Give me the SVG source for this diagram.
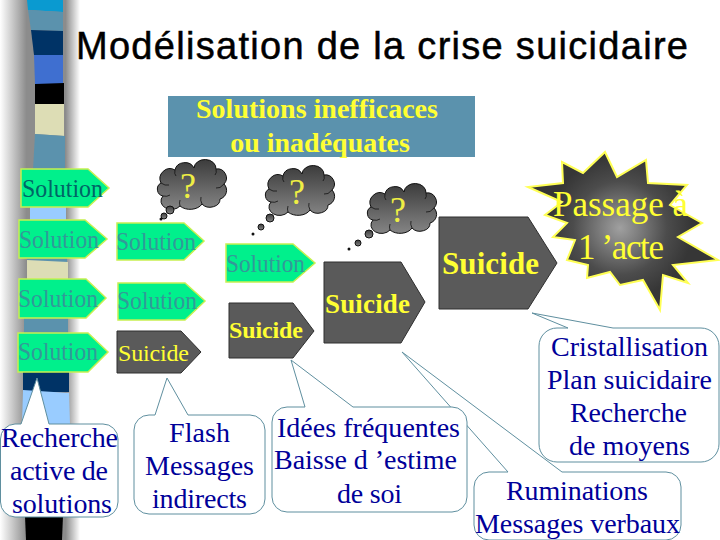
<svg xmlns="http://www.w3.org/2000/svg" width="720" height="540" viewBox="0 0 720 540">
<style>
.g{fill:#00f08c;stroke:#c8f050;stroke-width:1.5}
.d{fill:#5a5a5a;stroke:#2e2e2e;stroke-width:1}
.c{fill:#fff;stroke:#5f8f9f;stroke-width:1}
text{font-family:"Liberation Serif","Times New Roman",serif}
.s{font-size:26px;fill:#339999}
.y{fill:#ffff33}
.b{font-weight:bold}
.n{font-size:28px;fill:#000099}
.q{font-size:36px;fill:#eeee44;text-anchor:middle}
.cl{fill:url(#cg);stroke:#111;stroke-width:1}
.cr{fill:none;stroke:#111;stroke-width:.8}
</style>
<defs>
<linearGradient id="sh" x1="0" x2="1" y1="0" y2="0">
<stop offset="0" stop-color="#fff"/><stop offset=".33" stop-color="#8c8c8c"/><stop offset=".82" stop-color="#8c8c8c"/><stop offset="1" stop-color="#fff"/>
</linearGradient>
<linearGradient id="cg" x1="0" x2="0" y1="0" y2="1">
<stop offset="0" stop-color="#3c3c3c"/><stop offset="1" stop-color="#858585"/>
</linearGradient>
<radialGradient id="st" gradientUnits="userSpaceOnUse" cx="620" cy="228" r="72">
<stop offset="0" stop-color="#a0a0a0"/><stop offset=".65" stop-color="#4c4c4c"/><stop offset="1" stop-color="#363636"/>
</radialGradient>
<g id="cloud">
<path class="cl" d="M7 34A7 7 0 0 1 5 21A10 10 0 0 1 19 8A10 9 0 0 1 38 6A11 9 0 0 1 60 7A9 9 0 0 1 68 22A9 9 0 0 1 64 37A10 8 0 0 1 46 42A13 9 0 0 1 24 44A10 8 0 0 1 7 34Z"/>
<path class="cr" d="M5 21Q9 24 13 23M19 8Q18 12 20 14M60 7Q61 11 59 13M68 22Q64 27 60 26M46 42Q44 38 45 35M24 44Q23 41 24 38M7 34Q11 35 14 33"/>
</g>
</defs>
<rect width="720" height="540" fill="#fff"/>
<g id="strip">
<rect x="0" y="0" width="80" height="540" fill="url(#sh)"/>
<polygon points="27,0 63,0 63,12 28,10" fill="#0a9ad0"/>
<polygon points="28,10 63,12 63,31 31,30" fill="#5b92ad"/>
<polygon points="31,30 63,31 63,55 34,55" fill="#003366"/>
<polygon points="34,55 63,55 63,84 35,84" fill="#3f6fd0"/>
<polygon points="35,84 64,83 64,104 35,104" fill="#000"/>
<polygon points="35,104 64,104 64,136 35,134" fill="#ddddb5"/>
<polygon points="35,134 65,136 65,170 33,170" fill="#5b92ad"/>
<rect x="30" y="170" width="36" height="52" fill="#99ccff"/>
<rect x="27" y="222" width="40" height="40" fill="#5b92ad"/>
<polygon points="27,260 68,262 68,318 27,318" fill="#ddddb5"/>
<rect x="24" y="318" width="44" height="16" fill="#5b92ad"/>
<rect x="23" y="334" width="46" height="58" fill="#003366"/>
<polygon points="23,390 69,393 70,424 22,424" fill="#99ccff"/>
<polygon points="25,516 63,516 62,540 26,540" fill="#000"/>
</g>
<text id="title" x="76" y="59" textLength="612" font-size="38" stroke="#000" stroke-width=".5" style="font-family:'Liberation Sans',Arial,sans-serif" fill="#000">Modélisation de la crise suicidaire</text>
<g id="header">
<rect x="168" y="96" width="307" height="61" fill="#5b92ad"/>
<text class="y b" x="317" y="118" font-size="28" text-anchor="middle">Solutions inefficaces</text>
<text class="y b" x="320" y="152" font-size="28" text-anchor="middle">ou inadéquates</text>
</g>
<g id="connectors"></g>
<g id="callout-ruminations">
<path class="c" d="M489 472L508 472L402 352L562 472L666 472A15 15 0 0 1 681 487L681 525A15 15 0 0 1 666 540L489 540A15 15 0 0 1 474 525L474 487A15 15 0 0 1 489 472Z"/>
<text class="n" x="506" y="500" textLength="142">Ruminations</text>
<text class="n" x="475" y="533" textLength="205">Messages verbaux</text>
</g>
<g id="callout-idees">
<path class="c" d="M287 407L305 407L291 360L353 407L452 407A15 15 0 0 1 467 422L467 497A15 15 0 0 1 452 512L287 512A15 15 0 0 1 272 497L272 422A15 15 0 0 1 287 407Z"/>
<text class="n" x="277" y="437" textLength="183">Idées fréquentes</text>
<text class="n" x="274" y="469" textLength="183">Baisse d ’estime</text>
<text class="n" x="337" y="503" textLength="65">de soi</text>
</g>
<g id="callout-flash">
<path class="c" d="M149 415L155 415L167 378L188 415L250 415A15 15 0 0 1 265 430L265 499A15 15 0 0 1 250 514L149 514A15 15 0 0 1 134 499L134 430A15 15 0 0 1 149 415Z"/>
<text class="n" x="169" y="442" textLength="61">Flash</text>
<text class="n" x="145" y="475" textLength="109">Messages</text>
<text class="n" x="152" y="508" textLength="95">indirects</text>
</g>
<g id="callout-recherche">
<path class="c" d="M15 424L21 424L37 378L49 424L103 424A15 15 0 0 1 118 439L118 502A15 15 0 0 1 103 517L15 517A15 15 0 0 1 0.500 502L0.500 439A15 15 0 0 1 15 424Z"/>
<text class="n" x="1" y="447" textLength="117">Recherche</text>
<text class="n" x="10" y="480" textLength="98">active de</text>
<text class="n" x="12" y="513" textLength="100">solutions</text>
</g>
<g id="callout-cristallisation">
<path class="c" d="M557 328L568 328L532 313L613 328L701 328A18 18 0 0 1 719 346L719 444A18 18 0 0 1 701 462L557 462A18 18 0 0 1 539 444L539 346A18 18 0 0 1 557 328Z"/>
<text class="n" x="551" y="356" textLength="157">Cristallisation</text>
<text class="n" x="547" y="389" textLength="165">Plan suicidaire</text>
<text class="n" x="570" y="422" textLength="117">Recherche</text>
<text class="n" x="569" y="455" textLength="121">de moyens</text>
</g>
<g id="sol-1"><polygon class="g" points="21,169 88,169 109,188 88,207 21,207"/><text class="s" style="fill:#006666" x="22" y="197" textLength="81" lengthAdjust="spacingAndGlyphs">Solution</text></g>
<g id="sol-2"><polygon class="g" points="19,220 85,220 107,239 85,258 19,258"/><text class="s" x="19" y="248" textLength="80" lengthAdjust="spacingAndGlyphs">Solution</text></g>
<g id="sol-3"><polygon class="g" points="117,223 184,223 204,241 184,260 117,260"/><text class="s" x="116" y="250" textLength="80" lengthAdjust="spacingAndGlyphs">Solution</text></g>
<g id="sol-4"><polygon class="g" points="19,279 86,279 106,298 86,318 19,318"/><text class="s" x="18" y="307" textLength="80" lengthAdjust="spacingAndGlyphs">Solution</text></g>
<g id="sol-5"><polygon class="g" points="118,283 185,283 205,301 185,320 118,320"/><text class="s" x="117" y="309" textLength="80" lengthAdjust="spacingAndGlyphs">Solution</text></g>
<g id="sol-6"><polygon class="g" points="18,333 88,333 108,352 88,372 18,372"/><text class="s" x="18" y="360" textLength="80" lengthAdjust="spacingAndGlyphs">Solution</text></g>
<g id="sol-7"><polygon class="g" points="226,244 293,244 315,263 293,282 226,282"/><text class="s" x="226" y="272" textLength="79" lengthAdjust="spacingAndGlyphs">Solution</text></g>
<g id="suicide-1"><polygon class="d" points="117,331 181,331 201,352 181,373 117,373"/><text class="y" font-size="24" x="118" y="361" textLength="71">Suicide</text></g>
<g id="suicide-2"><polygon class="d" points="229,303 293,303 314,331 293,358 229,358"/><text class="y b" font-size="24" x="229" y="338" textLength="74">Suicide</text></g>
<g id="suicide-3"><polygon class="d" points="324,262 401,262 425,302 401,343 324,343"/><text class="y b" font-size="27" x="325" y="313" textLength="85">Suicide</text></g>
<g id="suicide-4"><polygon class="d" points="439,217 528,217 557,263 528,309 439,309"/><text class="y b" font-size="31" x="442" y="274" textLength="97">Suicide</text></g>
<g id="thought-1">
<use href="#cloud" x="156" y="162"/>
<circle class="cl" cx="170" cy="210" r="4"/><circle class="cl" cx="164" cy="216" r="3"/><circle cx="161" cy="219" r="1.500" fill="#111"/>
<text class="q" x="188" y="198">?</text>
</g>
<g id="thought-2">
<use href="#cloud" x="264" y="168"/>
<circle class="cl" cx="270" cy="218" r="4"/><circle class="cl" cx="261" cy="227" r="3"/><circle cx="253" cy="234" r="1.500" fill="#111"/>
<text class="q" x="297" y="204">?</text>
</g>
<g id="thought-3">
<use href="#cloud" x="366" y="186"/>
<circle class="cl" cx="369" cy="234" r="4"/><circle class="cl" cx="358" cy="243" r="3"/><circle cx="349" cy="249" r="1.500" fill="#111"/>
<text class="q" x="398" y="222">?</text>
</g>
<g id="passage">
<polygon fill="url(#st)" stroke="#ffff55" stroke-width="2" points="605,152 617,177 646,160 648,183 687,185 670,205 702,223 678,237 718,260 673,265 688,283 663,275 660,310 643,280 620,285 610,272 587,278 588,265 567,260 575,240 553,237 567,223 545,215 562,202 528,187 563,183 562,162 583,173"/>
<text class="y" font-size="35" x="553" y="216" textLength="135">Passage à</text>
<text class="y" font-size="35" x="578" y="259" textLength="86">1 ’acte</text>
</g>
</svg>
